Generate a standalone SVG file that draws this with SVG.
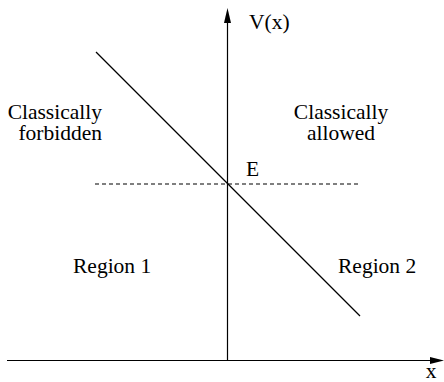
<svg xmlns="http://www.w3.org/2000/svg" width="444" height="382" viewBox="0 0 444 382">
<style>
.ln{stroke:#000;stroke-width:1.2;fill:none}
</style>
<rect width="444" height="382" fill="#fff"/>
<g id="connectors">
<line class="ln" x1="227.5" y1="361" x2="227.5" y2="20"/>
<path d="M227.5 8 L231 23 L224 23 Z" fill="#000"/>
<line class="ln" x1="7" y1="360.5" x2="432" y2="360.5"/>
<path d="M444 360.5 L430 357 L430 364 Z" fill="#000"/>
<line class="ln" x1="96" y1="52" x2="360" y2="316"/>
<line class="ln" x1="95" y1="184" x2="360" y2="184" stroke-dasharray="4 3"/>
</g>
<g font-family="'Liberation Serif', 'DejaVu Serif', 'Noto Serif', Georgia, serif" font-size="21.5" fill="#000">
<g id="label-V"><text x="249" y="29">V(x)</text></g>
<g id="label-x"><text x="431" y="378" text-anchor="middle">x</text></g>
<g id="label-E"><text x="246" y="176">E</text></g>
<g id="forbidden"><text x="102" y="119" text-anchor="end">Classically</text><text x="102" y="140" text-anchor="end">forbidden</text></g>
<g id="allowed"><text x="341" y="119" text-anchor="middle">Classically</text><text x="341" y="140" text-anchor="middle">allowed</text></g>
<g id="region1"><text x="73" y="273">Region 1</text></g>
<g id="region2"><text x="338" y="273">Region 2</text></g>
</g>
</svg>
